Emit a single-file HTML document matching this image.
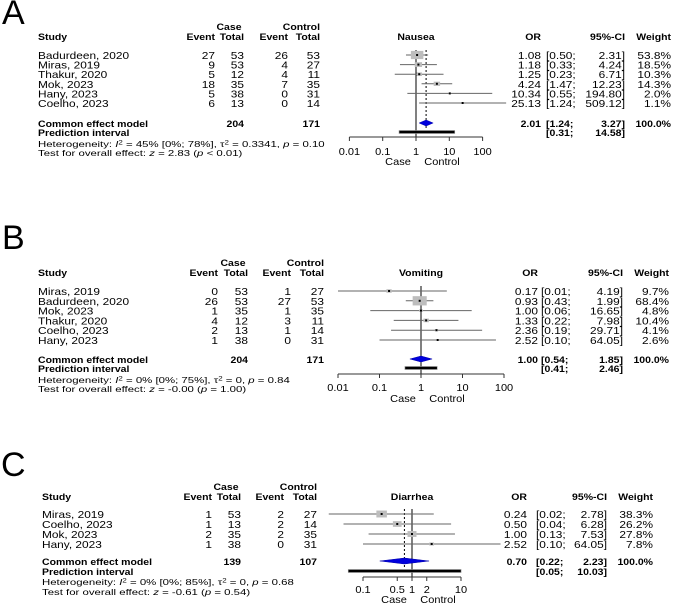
<!DOCTYPE html>
<html><head><meta charset="utf-8"><style>
html,body{margin:0;padding:0;background:#fff;}
svg{display:block;font-family:"Liberation Sans",Arial,sans-serif;}
</style></head><body>
<svg id="fig" width="676" height="603" viewBox="0 0 676 603" xmlns="http://www.w3.org/2000/svg"></svg>
<script>
// Panel A: Nausea
const studiesA = ["Badurdeen, 2020","Miras, 2019","Thakur, 2020","Mok, 2023","Hany, 2023","Coelho, 2023"];
const caseEventA = [27,9,5,18,5,6];
const caseTotalA = [53,53,12,35,38,13];
const ctrlEventA = [26,4,4,7,0,0];
const ctrlTotalA = [53,27,11,35,31,14];
const orA = [1.08,1.18,1.25,4.24,10.34,25.13];
const loA = [0.50,0.33,0.23,1.47,0.55,1.24];
const hiA = [2.31,4.24,6.71,12.23,194.80,509.12];
const weightA = [53.8,18.5,10.3,14.3,2.0,1.1];
const pooledA = [2.01,1.24,3.27];
const predA = [0.31,14.58];
const totalsA = [204,171];
const ticksA = [0.01,0.1,1,10,100];
const tickLabelsA = ["0.01","0.1","1","10","100"];

// Panel B: Vomiting
const studiesB = ["Miras, 2019","Badurdeen, 2020","Mok, 2023","Thakur, 2020","Coelho, 2023","Hany, 2023"];
const caseEventB = [0,26,1,4,2,1];
const caseTotalB = [53,53,35,12,13,38];
const ctrlEventB = [1,27,1,3,1,0];
const ctrlTotalB = [27,53,35,11,14,31];
const orB = [0.17,0.93,1.00,1.33,2.36,2.52];
const loB = [0.01,0.43,0.06,0.22,0.19,0.10];
const hiB = [4.19,1.99,16.65,7.98,29.71,64.05];
const weightB = [9.7,68.4,4.8,10.4,4.1,2.6];
const pooledB = [1.00,0.54,1.85];
const predB = [0.41,2.46];
const totalsB = [204,171];
const ticksB = [0.01,0.1,1,10,100];
const tickLabelsB = ["0.01","0.1","1","10","100"];

// Panel C: Diarrhea
const studiesC = ["Miras, 2019","Coelho, 2023","Mok, 2023","Hany, 2023"];
const caseEventC = [1,1,2,1];
const caseTotalC = [53,13,35,38];
const ctrlEventC = [2,2,2,0];
const ctrlTotalC = [27,14,35,31];
const orC = [0.24,0.50,1.00,2.52];
const loC = [0.02,0.04,0.13,0.10];
const hiC = [2.78,6.28,7.53,64.05];
const weightC = [38.3,26.2,27.8,7.8];
const pooledC = [0.70,0.22,2.23];
const predC = [0.05,10.03];
const totalsC = [139,107];
const ticksC = [0.1,0.5,1,2,10];
const tickLabelsC = ["0.1","0.5","1","2","10"];

const NS="http://www.w3.org/2000/svg";
const svg=document.getElementById('fig');
function el(tag,attrs,parent){const e=document.createElementNS(NS,tag);for(const k in attrs)e.setAttribute(k,attrs[k]);(parent||svg).appendChild(e);return e;}
function txt(str,x,y,size,anchor,bold,name,parent,sx,sy){
  sx=sx||(bold?1.0:1.08); sy=sy||0.9;
  if(bold&&size===11) size=10.5;
  const t=el('text',{transform:`translate(${x},${y}) scale(${sx},${sy})`,'font-size':size,'text-anchor':anchor||'start','font-weight':bold?'bold':'normal',fill:'#000'},parent);
  
  
  t.textContent=str;return t;
}
function f2(v){return v.toFixed(2);}

function panel(cfg){
  const g=el('g',{});
  
  
  const L=cfg.L;
  const X=v=>L.x1+L.dec*Math.log10(v);
  const lt=el('text',{x:L.letterX,y:L.letterY,'font-size':34,fill:'#000'},g);
  
  
  lt.textContent=cfg.letter;
  const fs=11, b=4;
  txt("Case",L.caseC,L.caseY+b,fs,'middle',true,'case-header',g);
  txt("Control",L.ctot,L.caseY+b,fs,'end',true,'control-header',g);
  txt("Study",L.study,L.studyY+b,fs,'start',true,'study-header',g);
  txt("Event",L.ev,L.studyY+b,fs,'end',true,'event-header',g);
  txt("Total",L.tot,L.studyY+b,fs,'end',true,'total-header',g);
  txt("Event",L.cev,L.studyY+b,fs,'end',true,'event-header',g);
  txt("Total",L.ctot,L.studyY+b,fs,'end',true,'total-header',g);
  txt(cfg.title,L.center,L.studyY+b,fs,'middle',true,'outcome-title',g);
  txt("OR",L.or,L.studyY+b,fs,'end',true,'or-header',g);
  txt("95%-CI",L.ciR,L.studyY+b,fs,'end',true,'ci-header',g);
  txt("Weight",L.wt,L.studyY+b,fs,'end',true,'weight-header',g);
  const n=cfg.studies.length;
  const rowY=i=>L.row0+i*L.step;
  const top=rowY(0)-5;
  const ln=el('line',{x1:X(1),x2:X(1),y1:top,y2:L.axisY,stroke:'#000','stroke-width':1},g);
  
  
  const dl=el('line',{x1:X(cfg.pooled[0]),x2:X(cfg.pooled[0]),y1:top,y2:L.predY-3,stroke:'#000','stroke-width':1,'stroke-dasharray':'2,2'},g);
  
  
  for(let i=0;i<n;i++){
    const y=rowY(i);
    txt(cfg.studies[i],L.study,y+b,fs,'start',false,'study-name',g);
    txt(String(cfg.ce[i]),L.ev,y+b,fs,'end',false,'case-event',g);
    txt(String(cfg.ct[i]),L.tot,y+b,fs,'end',false,'case-total',g);
    txt(String(cfg.ke[i]),L.cev,y+b,fs,'end',false,'control-event',g);
    txt(String(cfg.kt[i]),L.ctot,y+b,fs,'end',false,'control-total',g);
    txt(f2(cfg.or[i]),L.or,y+b,fs,'end',false,'or-value',g);
    txt("["+f2(cfg.lo[i])+";",L.ciL,y+b,fs,'start',false,'ci-lower',g);
    txt(f2(cfg.hi[i])+"]",L.ciR,y+b,fs,'end',false,'ci-upper',g);
    txt(cfg.w[i].toFixed(1)+"%",L.wt,y+b,fs,'end',false,'weight-value',g);
    const ci=el('line',{x1:X(cfg.lo[i]),x2:X(cfg.hi[i]),y1:y,y2:y,stroke:'#666','stroke-width':1},g);
    
    
    const s=Math.max(2,Math.sqrt(cfg.w[i]/100)*17);
    const sq=el('rect',{x:X(cfg.or[i])-s/2,y:y-s*0.33,width:s,height:s*0.66,fill:'#bdbdbd'},g);
    
    
    const pt=el('rect',{x:X(cfg.or[i])-1,y:y-1,width:2,height:2,fill:'#000'},g);
    
    
  }
  const cy=L.commonY;
  txt("Common effect model",L.study,cy+b,fs,'start',true,'common-effect-label',g);
  txt(String(cfg.totals[0]),L.tot,cy+b,fs,'end',true,'case-total-sum',g);
  txt(String(cfg.totals[1]),L.ctot,cy+b,fs,'end',true,'control-total-sum',g);
  txt(f2(cfg.pooled[0]),L.or,cy+b,fs,'end',true,'pooled-or',g);
  txt("["+f2(cfg.pooled[1])+";",L.ciL,cy+b,fs,'start',true,'pooled-ci-lower',g);
  txt(f2(cfg.pooled[2])+"]",L.ciR,cy+b,fs,'end',true,'pooled-ci-upper',g);
  txt("100.0%",L.wt,cy+b,fs,'end',true,'pooled-weight',g);
  const dm=el('polygon',{points:`${X(cfg.pooled[1])},${cy} ${X(cfg.pooled[0])},${cy-3} ${X(cfg.pooled[2])},${cy} ${X(cfg.pooled[0])},${cy+3}`,fill:'#0000dd',stroke:'#0000aa','stroke-width':0.5},g);
  
  
  const py=L.predY;
  txt("Prediction interval",L.study,py+b,fs,'start',true,'prediction-interval-label',g);
  txt("["+f2(cfg.pred[0])+";",L.ciL,py+b,fs,'start',true,'prediction-lower',g);
  txt(f2(cfg.pred[1])+"]",L.ciR,py+b,fs,'end',true,'prediction-upper',g);
  const pb=el('rect',{x:X(cfg.pred[0]),y:py-1.5,width:X(cfg.pred[1])-X(cfg.pred[0]),height:3,fill:'#000',stroke:'#999','stroke-width':0.6},g);
  
  
  const hs=10;
  const h=txt("",L.study,L.hetY+b,hs,'start',false,'heterogeneity-text',g,1.14,0.85);
  h.innerHTML=`Heterogeneity: <tspan font-style="italic">I</tspan><tspan dy="-3" font-size="7">2</tspan><tspan dy="3"> = ${cfg.het[0]}, </tspan>τ<tspan dy="-3" font-size="7">2</tspan><tspan dy="3"> = ${cfg.het[1]}, </tspan><tspan font-style="italic">p</tspan> = ${cfg.het[2]}`;
  const t=txt("",L.study,L.testY+b,hs,'start',false,'overall-effect-test',g,1.14,0.85);
  t.innerHTML=`Test for overall effect: <tspan font-style="italic">z</tspan> = ${cfg.test[0]} (<tspan font-style="italic">p</tspan> ${cfg.test[1]})`;
  const a0=X(cfg.ticks[0]),a1=X(cfg.ticks[cfg.ticks.length-1]);
  const ax=el('line',{x1:a0,x2:a1,y1:L.axisY,y2:L.axisY,stroke:'#333','stroke-width':1},g);
  
  
  cfg.ticks.forEach((v,i)=>{
    const tk=el('line',{x1:X(v),x2:X(v),y1:L.axisY,y2:L.axisY+4,stroke:'#333','stroke-width':1},g);
    
    
    txt(cfg.tickLabels[i],X(v),L.tickY+b,11,'middle',false,'x-tick-label',g,1.0,0.9);
  });
  txt("Case",X(1)-18,L.ccY+b,11,'middle',false,'favours-case-label',g,1.0,0.9);
  txt("Control",X(1)+26,L.ccY+b,11,'middle',false,'favours-control-label',g,1.0,0.9);
}

panel({name:'panel-a-nausea',letter:'A',title:'Nausea',studies:studiesA,ce:caseEventA,ct:caseTotalA,ke:ctrlEventA,kt:ctrlTotalA,or:orA,lo:loA,hi:hiA,w:weightA,pooled:pooledA,pred:predA,totals:totalsA,ticks:ticksA,tickLabels:tickLabelsA,
  het:['45% [0%; 78%]','0.3341','0.10'],test:['2.83','< 0.01'],
  L:{x1:416,dec:33.3,letterX:2,letterY:24,study:38,ev:215,tot:244,cev:288,ctot:320,caseC:229,center:416,or:541,ciL:546,ciR:625,wt:671,
     caseY:26,studyY:36,row0:55,step:9.6,commonY:123,predY:132,hetY:143,testY:152,axisY:137,tickY:151,ccY:161}});
panel({name:'panel-b-vomiting',letter:'B',title:'Vomiting',studies:studiesB,ce:caseEventB,ct:caseTotalB,ke:ctrlEventB,kt:ctrlTotalB,or:orB,lo:loB,hi:hiB,w:weightB,pooled:pooledB,pred:predB,totals:totalsB,ticks:ticksB,tickLabels:tickLabelsB,
  het:['0% [0%; 75%]','0','0.84'],test:['-0.00','= 1.00'],
  L:{x1:421,dec:41.5,letterX:2,letterY:249,study:38,ev:218,tot:248,cev:291,ctot:324,caseC:233,center:421,or:538,ciL:541,ciR:623,wt:669,
     caseY:262,studyY:272,row0:291,step:9.8,commonY:359,predY:368,hetY:379,testY:388,axisY:374,tickY:387,ccY:398}});
panel({name:'panel-c-diarrhea',letter:'C',title:'Diarrhea',studies:studiesC,ce:caseEventC,ct:caseTotalC,ke:ctrlEventC,kt:ctrlTotalC,or:orC,lo:loC,hi:hiC,w:weightC,pooled:pooledC,pred:predC,totals:totalsC,ticks:ticksC,tickLabels:tickLabelsC,
  het:['0% [0%; 85%]','0','0.68'],test:['-0.61','= 0.54'],
  L:{x1:412,dec:49,letterX:1,letterY:476,study:42,ev:212,tot:241,cev:284,ctot:317,caseC:226,center:412,or:527,ciL:536,ciR:607,wt:653,
     caseY:486,studyY:496,row0:514,step:10,commonY:561,predY:571,hetY:581,testY:591,axisY:577,tickY:589,ccY:599}});
</script>
</body></html>
